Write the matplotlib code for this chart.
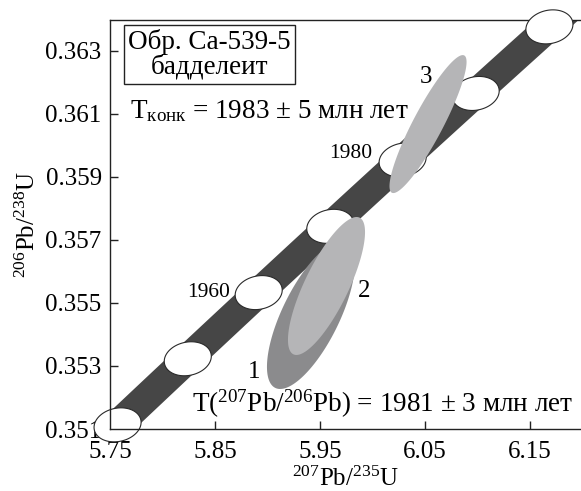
import numpy as np
import matplotlib
matplotlib.use("Agg")
import matplotlib.pyplot as plt
from matplotlib.patches import Polygon

plt.rcParams['font.family'] = ['Liberation Serif', 'DejaVu Serif']
plt.rcParams['mathtext.fontset'] = 'custom'
plt.rcParams['mathtext.rm'] = 'Liberation Serif'
plt.rcParams['mathtext.it'] = 'Liberation Serif'
plt.rcParams['mathtext.default'] = 'regular'

# ---- data ----
LAMBDA_238 = 1.55125e-10
LAMBDA_235 = 9.8485e-10
marker_ages = [1940, 1950, 1960, 1970, 1980, 1990, 2000]   # Ma
labelled_ages = [1960, 1980]
band_ages = np.arange(1925, 2016, 1.0)
band_half_width = 0.0205        # 207Pb/235U units
marker_ex = 0.0224
marker_ey = 0.00054
marker_rho = 0.15

# analyses: 207Pb/235U, 206Pb/238U, half-extents and correlation
an_labels = ["1", "2", "3"]
an_x = [5.9414, 5.9562, 6.0529]
an_y = [0.35462, 0.35554, 0.36068]
an_ex = [0.0419, 0.0367, 0.0367]
an_ey = [0.00235, 0.00219, 0.00219]
an_rho = [0.70, 0.78, 0.90]
an_colors = ["#8b8b8d", "#b5b5b7", "#b5b5b7"]
an_label_x = [5.8871, 5.9919, 6.051]
an_label_y = [0.35262, 0.35519, 0.36198]

xticks = [5.75, 5.85, 5.95, 6.05, 6.15]
yticks = [0.351, 0.353, 0.355, 0.357, 0.359, 0.361, 0.363]
xlim = (5.75, 6.1986)
ylim = (0.351, 0.363984)


def concordia(t_ma):
    t = np.asarray(t_ma) * 1e6
    return np.exp(LAMBDA_235 * t) - 1, np.exp(LAMBDA_238 * t) - 1


def ellipse_pts(cx, cy, ex, ey, rho, n=200):
    th = np.linspace(0, 2 * np.pi, n)
    x = cx + ex * np.cos(th)
    y = cy + ey * (rho * np.cos(th) + np.sqrt(1 - rho ** 2) * np.sin(th))
    return np.column_stack([x, y])


fig = plt.figure(figsize=(5.81, 4.91), dpi=100)
ax = fig.add_axes([110 / 581, (491 - 429) / 491, 471 / 581, 409 / 491])
ax.set_xlim(*xlim)
ax.set_ylim(*ylim)

# concordia band
bx, by = concordia(band_ages)
band = np.vstack([np.column_stack([bx - band_half_width, by]),
                  np.column_stack([bx[::-1] + band_half_width, by[::-1]])])
ax.add_patch(Polygon(band, closed=True, facecolor="#464646", edgecolor="none", zorder=1))

# age markers
mx, my = concordia(marker_ages)
for x0, y0 in zip(mx, my):
    ax.add_patch(Polygon(ellipse_pts(x0, y0, marker_ex, marker_ey, marker_rho), closed=True,
                         facecolor="white", edgecolor="#2a2a2a", lw=0.8, zorder=2, clip_on=False))

# analyses
for i in range(len(an_x)):
    ax.add_patch(Polygon(ellipse_pts(an_x[i], an_y[i], an_ex[i], an_ey[i], an_rho[i]), closed=True,
                         facecolor=an_colors[i], edgecolor="none", zorder=3))
    ax.text(an_label_x[i], an_label_y[i], an_labels[i], fontsize=18, ha="center",
            va="baseline", zorder=6)

# age labels
ax.text(5.8643, 0.35519, str(labelled_ages[0]), fontsize=15.5, ha="right", va="baseline", zorder=6)
ax.text(5.9995, 0.359603, str(labelled_ages[1]), fontsize=15.5, ha="right", va="baseline", zorder=6)

# annotations
ax.text(5.845, 0.362889, "Обр. Ca-539-5\nбадделеит", fontsize=19.5, ha="center", va="center",
        multialignment="center", linespacing=0.95, zorder=6,
        bbox=dict(boxstyle="square,pad=0.15", facecolor="white", edgecolor="#222222", lw=1.0))
ax.text(5.769, 0.360873, "T$_{конк}$ = 1983 ± 5 млн лет", fontsize=19.5, ha="left",
        va="baseline", zorder=6)
ax.text(5.8281, 0.35154, "T($^{207}$Pb/$^{206}$Pb) = 1981 ± 3 млн лет", fontsize=19.5,
        ha="left", va="baseline", zorder=6)

# axes styling
ax.spines["right"].set_visible(False)
ax.spines["top"].set_zorder(1.5)
for s in ["left", "bottom", "top"]:
    ax.spines[s].set_linewidth(1.0)
    ax.spines[s].set_color("#222222")
ax.set_xticks(xticks)
ax.set_xticklabels([f"{v:.2f}" for v in xticks])
ax.set_yticks(yticks)
ax.set_yticklabels([f"{v:.3f}" for v in yticks])
ax.tick_params(axis="both", direction="in", length=6, width=1.0, color="#222222", labelsize=18)
ax.tick_params(axis="x", pad=8.5)
ax.tick_params(axis="y", pad=6)
ax.set_xlabel("$^{207}$Pb/$^{235}$U", fontsize=18, labelpad=3)
ax.set_ylabel("$^{206}$Pb/$^{238}$U", fontsize=18, labelpad=4)

fig.savefig("out.png", dpi=100)
